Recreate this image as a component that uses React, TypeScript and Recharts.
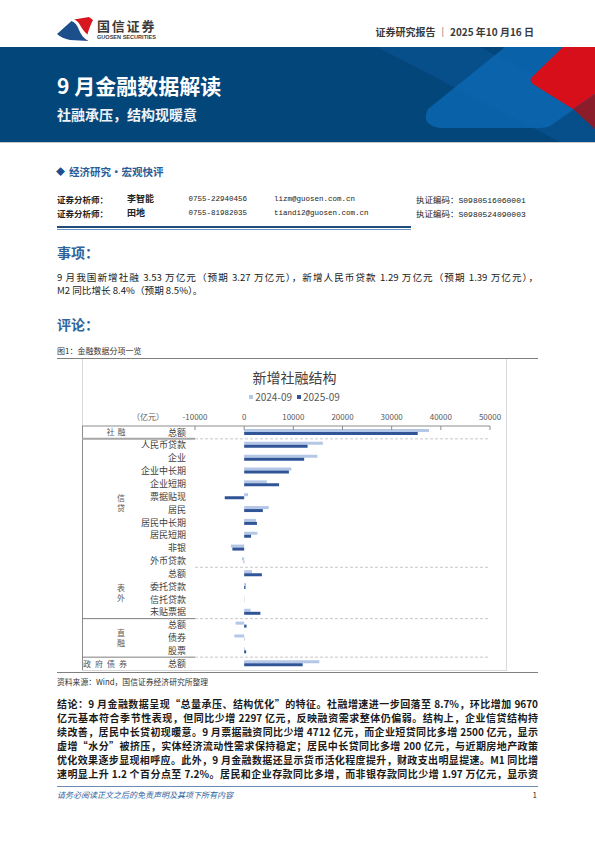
import React from 'react';
import { BarChart, Bar, XAxis, YAxis, ReferenceLine, Legend } from 'recharts';

// ---------- data ----------
const groups = ['社融', '信贷', '信贷', '信贷', '信贷', '信贷', '信贷', '信贷', '信贷', '信贷', '信贷', '表外', '表外', '表外', '表外', '直融', '直融', '直融', '政府债券'];
const items = ['总额', '人民币贷款', '企业', '企业中长期', '企业短期', '票据贴现', '居民', '居民中长期', '居民短期', '非银', '外币贷款', '总额', '委托贷款', '信托贷款', '未贴票据', '总额', '债券', '股票', '总额'];
const values2024 = [37600, 16000, 14900, 9600, 4600, 770, 5000, 2400, 2700, -2700, -450, 1600, 400, 60, 1300, -1750, -2000, 150, 15300];
const values2025 = [35300, 12900, 12200, 9100, 7100, -3950, 3800, 2600, 1400, -2400, -80, 3600, 270, 30, 3300, 480, 50, 400, 11900];
const seriesNames = ['2024-09', '2025-09'];
const xTicks = [-10000, 0, 10000, 20000, 30000, 40000, 50000];
const unitLabel = '（亿元）';
const chartTitle = '新增社融结构';

const data = items.map((item, i) => ({
  key: `${groups[i]}-${i}`,
  group: groups[i],
  item,
  v2024: values2024[i],
  v2025: values2025[i],
}));

// ---------- layout / style ----------
const CJK = '"Noto Sans CJK SC", "Noto Sans", sans-serif';
const MONO = '"Liberation Mono", "DejaVu Sans Mono", monospace';
const CHART_W = 425;
const CHART_H = 312;
const MARGIN = { top: 47, right: 17, bottom: 1, left: 0 };
const XAXIS_H = 20;
const YAXIS_W = 113;
const PLOT_H = CHART_H - MARGIN.top - XAXIS_H - MARGIN.bottom;
const BAND = PLOT_H / data.length;
const X_TICK_MARGIN = 6;
const COLOR_2024 = '#b4c7e7';
const COLOR_2025 = '#2f5597';
const AXIS_COLOR = '#8c8c8c';
const solidSeparators: Record<string, { stroke: string; width: number }> = {
  信贷: { stroke: '#a6a6a6', width: 2 },
  直融: { stroke: '#7f7f7f', width: 1 },
  政府债券: { stroke: '#7f7f7f', width: 1 },
};
const horizontalGroupLabels: Record<string, { cx: number; step: number }> = {
  社融: { cx: 34, step: 11 },
  政府债券: { cx: 23, step: 12 },
};

const groupStart = (i: number) => i === 0 || groups[i - 1] !== groups[i];
const groupSize = (g: string) => groups.filter((x) => x === g).length;

const XTick = (props: any) => {
  const { x, y, payload } = props;
  const axisY = y + X_TICK_MARGIN;
  return (
    <g>
      <line x1={x} x2={x} y1={axisY} y2={axisY + 4} stroke={AXIS_COLOR} strokeWidth={1} />
      <text x={x} y={y - 0.5} textAnchor="middle" fontSize={8} fill="#595959" fontFamily={CJK}>
        {payload.value}
      </text>
    </g>
  );
};

const YTick = (props: any) => {
  const { x, y, payload } = props;
  const i = data.findIndex((d) => d.key === payload.value);
  if (i < 0) return null;
  const row = data[i];
  const els: any[] = [];
  els.push(
    <text key="t" x={x} y={y + 3.2} textAnchor="end" fontSize={9} fill="#404040" fontFamily={CJK}>
      {row.item}
    </text>
  );
  if (i === 0) {
    const top = y - BAND / 2;
    els.push(<line key="ax" x1={0} x2={YAXIS_W} y1={top} y2={top} stroke={AXIS_COLOR} strokeWidth={1} />);
    els.push(<line key="lv" x1={0.5} x2={0.5} y1={top} y2={top + BAND * data.length} stroke="#8c8c8c" strokeWidth={1} />);
  }
  if (groupStart(i)) {
    const size = groupSize(row.group);
    const cy = y + ((size - 1) / 2) * BAND;
    const chars = Array.from(row.group);
    const h = horizontalGroupLabels[row.group];
    if (h) {
      els.push(
        <text key="g" y={cy + 3} textAnchor="middle" fontSize={8} fill="#595959" fontFamily={CJK}>
          {chars.map((c, k) => (
            <tspan key={k} x={h.cx + (k - (chars.length - 1) / 2) * h.step}>{c}</tspan>
          ))}
        </text>
      );
    } else {
      els.push(
        <text key="g" textAnchor="middle" fontSize={8} fill="#595959" fontFamily={CJK}>
          {chars.map((c, k) => (
            <tspan key={k} x={39} y={cy + 3 + (k - (chars.length - 1) / 2) * 9.5}>{c}</tspan>
          ))}
        </text>
      );
    }
    const sep = solidSeparators[row.group];
    if (sep) {
      const sy = y - BAND / 2;
      els.push(<line key="sep" x1={0} x2={YAXIS_W} y1={sy} y2={sy} stroke={sep.stroke} strokeWidth={sep.width} />);
    }
  }
  return <g>{els}</g>;
};

const LegendContent = (props: any) => {
  const payload = (props.payload || []) as any[];
  const ordered = seriesNames.map((n) => payload.find((p) => p.value === n)).filter(Boolean);
  return (
    <div style={{ display: 'flex', justifyContent: 'center', alignItems: 'center', fontFamily: CJK, fontSize: 10, color: '#595959', lineHeight: '12px' }}>
      {ordered.map((p: any, k: number) => (
        <div key={k} style={{ display: 'flex', alignItems: 'center', marginRight: k === 0 ? 5 : 0 }}>
          <span style={{ display: 'inline-block', width: 4, height: 4, background: p.color, marginRight: 2 }} />
          <span>{p.value}</span>
        </div>
      ))}
    </div>
  );
};

// ---------- page helpers ----------
const Txt = (p: { x: number; cy: number; size: number; children: any; bold?: boolean; color?: string; family?: string; style?: any; anchor?: 'left' | 'right' | 'center'; w?: number }) => {
  const lh = Math.round(p.size * 1.5);
  const style: any = {
    position: 'absolute',
    top: p.cy - lh / 2,
    lineHeight: `${lh}px`,
    fontSize: p.size,
    fontWeight: p.bold ? 700 : 400,
    color: p.color || '#222',
    fontFamily: p.family || CJK,
    whiteSpace: 'nowrap',
    ...p.style,
  };
  if (p.anchor === 'right') {
    style.right = 595 - p.x;
  } else if (p.anchor === 'center') {
    style.left = p.x - (p.w || 200) / 2;
    style.width = p.w || 200;
    style.textAlign = 'center';
  } else {
    style.left = p.x;
  }
  return <div style={style}>{p.children}</div>;
};

const JLine = (p: { cy: number; size: number; text: string; bold?: boolean; justify?: boolean; color?: string }) => {
  const lh = Math.round(p.size * 1.4);
  return (
    <div
      style={{
        position: 'absolute',
        left: 57,
        width: 481,
        top: p.cy - lh / 2,
        lineHeight: `${lh}px`,
        height: lh,
        fontSize: p.size,
        fontWeight: p.bold ? 700 : 400,
        color: p.color || '#1a1a1a',
        fontFamily: CJK,
        textAlign: p.justify ? 'justify' : 'left',
        textAlignLast: p.justify ? 'justify' : 'auto',
        overflow: 'visible',
      } as any}
    >
      {p.text}
    </div>
  );
};

const eventLines = [
  '9 月我国新增社融 3.53 万亿元（预期 3.27 万亿元），新增人民币贷款 1.29 万亿元（预期 1.39 万亿元），',
  'M2 同比增长 8.4%（预期 8.5%）。',
];
const conclusionLines = [
  '结论：9 月金融数据呈现“总量承压、结构优化”的特征。社融增速进一步回落至 8.7%，环比增加 9670',
  '亿元基本符合季节性表现，但同比少增 2297 亿元，反映融资需求整体仍偏弱。结构上，企业信贷结构持',
  '续改善，居民中长贷初现暖意。9 月票据融资同比少增 4712 亿元，而企业短贷同比多增 2500 亿元，显示',
  '虚增“水分”被挤压，实体经济流动性需求保持稳定；居民中长贷同比多增 200 亿元，与近期房地产政策',
  '优化效果逐步显现相呼应。此外，9 月金融数据还显示货币活化程度提升，财政支出明显提速。M1 同比增',
  '速明显上升 1.2 个百分点至 7.2%。居民和企业存款同比多增，而非银存款同比少增 1.97 万亿元，显示资',
];

export default function App() {
  const sepStarts = data.map((d, i) => (i > 0 && groupStart(i) ? d.key : null)).filter(Boolean) as string[];
  return (
    <div style={{ position: 'absolute', left: 0, top: 0, width: 595, height: 842, background: '#fff', overflow: 'hidden', fontFamily: CJK }}>
      {/* logo */}
      <svg width={595} height={47} style={{ position: 'absolute', left: 0, top: 0 }}>
        <path d="M57,34 L71.5,21 C75.5,22.5 77.5,26 79,30 C81,35 84,38.5 88.5,41 L70,40 C65,39 60,37 57,34 Z" fill="#1d4f8c" />
        <path d="M74,19.5 L89,17 L93,20 C90.5,25 88.5,30 87.5,34.5 C84,31.5 81.5,28 80,25 C78.5,22 76.5,20.5 74,19.5 Z" fill="#d7161f" />
        <text x={97} y={30.5} fontSize={13} fontWeight={700} fill="#3a3a3a" fontFamily={CJK} letterSpacing={1.8}>国信证券</text>
        <text x={97} y={38.8} fontSize={4.7} fontWeight={700} fill="#3a3a3a" fontFamily='"Liberation Sans", Arial, sans-serif' textLength={59} lengthAdjust="spacingAndGlyphs">GUOSEN SECURITIES</text>
      </svg>
      <Txt x={534} cy={31} size={10} bold anchor="right" color="#3a3a3a">证券研究报告 ｜ 2025 年10 月16 日</Txt>

      {/* banner */}
      <svg width={595} height={95} style={{ position: 'absolute', left: 0, top: 47 }}>
        <rect x={0} y={0} width={595} height={95} fill="#03467a" />
        <polygon points="377,0 480,0 595,60 595,95 560,95" fill="#0a5391" opacity={0.75} />
        <path d="M428,62 L505,0 L595,0 L595,48 L550,79 Q546,81 540,81 L440,81 Q420,78 428,62 Z" fill="#0b66b0" opacity={0.85} />
        <path d="M533,29 L563,0 L595,0 L595,47 L573,62 L536,39 Q527,34 533,29 Z" fill="#d60f1a" />
        <polygon points="573,62 595,47 595,82" fill="#8b1d2b" />
      </svg>
      <div style={{ position: 'absolute', left: 0, top: 142, width: 595, height: 1, background: '#c9c9c9' }} />
      <Txt x={57} cy={85} size={21} bold color="#ffffff">9 月金融数据解读</Txt>
      <Txt x={57} cy={114} size={14} bold color="#eef3f8">社融承压，结构现暖意</Txt>

      {/* section header */}
      <Txt x={56} cy={171.5} size={9} color="#1f4e8c">◆</Txt>
      <Txt x={69} cy={171.5} size={10.5} bold color="#2a5d97">经济研究·宏观快评</Txt>

      {/* analysts */}
      <Txt x={57} cy={199} size={8.5} bold>证券分析师：</Txt>
      <Txt x={127} cy={199} size={9} bold>李智能</Txt>
      <Txt x={188.5} cy={199} size={7.5} family={MONO}>0755-22940456</Txt>
      <Txt x={274} cy={199} size={7.5} family={MONO}>lizm@guosen.com.cn</Txt>
      <Txt x={416} cy={199} size={8.5}>执证编码：<span style={{ fontFamily: MONO, fontSize: 8 }}>S0980516060001</span></Txt>
      <Txt x={57} cy={213} size={8.5} bold>证券分析师：</Txt>
      <Txt x={127} cy={213} size={9} bold>田地</Txt>
      <Txt x={188.5} cy={213} size={7.5} family={MONO}>0755-81982035</Txt>
      <Txt x={274} cy={213} size={7.5} family={MONO}>tiandi2@guosen.com.cn</Txt>
      <Txt x={416} cy={213} size={8.5}>执证编码：<span style={{ fontFamily: MONO, fontSize: 8 }}>S0980524090003</span></Txt>
      <div style={{ position: 'absolute', left: 57, top: 226, width: 354, height: 2, background: '#1f4e79' }} />
      <div style={{ position: 'absolute', left: 57, top: 228.5, width: 354, height: 1, background: '#6b93c4' }} />

      {/* 事项 */}
      <Txt x={57} cy={252} size={14} bold color="#2f649c">事项：</Txt>
      <JLine cy={277} size={9.6} text={eventLines[0]} justify />
      <JLine cy={290.5} size={9.6} text={eventLines[1]} />

      {/* 评论 */}
      <Txt x={57} cy={324} size={14} bold color="#2f649c">评论：</Txt>
      <Txt x={57} cy={351} size={8} color="#333">图1：金融数据分项一览</Txt>

      {/* figure frame */}
      <div style={{ position: 'absolute', left: 82, top: 358, width: 425, height: 313, border: '1px solid #d9d9d9', boxSizing: 'border-box' }} />
      <div style={{ position: 'absolute', left: 57, top: 357.5, width: 481, height: 1.2, background: '#808080' }} />
      <div style={{ position: 'absolute', left: 57, top: 672, width: 481, height: 1.2, background: '#808080' }} />

      {/* chart */}
      <div style={{ position: 'absolute', left: 82, top: 359, width: CHART_W, height: CHART_H }}>
        <div style={{ position: 'absolute', left: 0, top: 8, width: CHART_W, textAlign: 'center', fontSize: 14, lineHeight: '20px', color: '#404040', fontFamily: CJK }}>{chartTitle}</div>
        <div style={{ position: 'absolute', left: 48, top: 52, width: 36, textAlign: 'center', fontSize: 8, lineHeight: '12px', color: '#595959', fontFamily: CJK }}>{unitLabel}</div>
        <BarChart width={CHART_W} height={CHART_H} data={data} layout="vertical" margin={MARGIN} barGap={0}>
          <XAxis
            type="number"
            orientation="top"
            domain={[xTicks[0], xTicks[xTicks.length - 1]]}
            ticks={xTicks}
            height={XAXIS_H}
            axisLine={{ stroke: AXIS_COLOR }}
            tickLine={false}
            tickSize={0}
            tickMargin={X_TICK_MARGIN}
            tick={<XTick />}
            interval={0}
          />
          <YAxis
            type="category"
            dataKey="key"
            width={YAXIS_W}
            axisLine={false}
            tickLine={false}
            tickSize={0}
            tickMargin={9}
            interval={0}
            tick={<YTick />}
          />
          <Legend
            verticalAlign="middle"
            align="center"
            layout="horizontal"
            wrapperStyle={{ position: 'absolute', top: 32, left: 0, width: CHART_W, height: 12 }}
            content={<LegendContent />}
          />
          {sepStarts.map((k) => (
            <ReferenceLine key={k} y={k} position="start" stroke="#c8c8c8" strokeDasharray="3 2" strokeWidth={1} />
          ))}
          <Bar dataKey="v2024" name={seriesNames[0]} fill={COLOR_2024} barSize={3} isAnimationActive={false} />
          <Bar dataKey="v2025" name={seriesNames[1]} fill={COLOR_2025} barSize={3} isAnimationActive={false} />
        </BarChart>
      </div>

      {/* source & conclusion */}
      <Txt x={57} cy={682} size={7.8} color="#333">资料来源：Wind，国信证券经济研究所整理</Txt>
      {conclusionLines.map((t, k) => (
        <JLine key={k} cy={704 + k * 14} size={10} text={t} bold justify color="#1a1a1a" />
      ))}

      {/* footer */}
      <div style={{ position: 'absolute', left: 57, top: 786, width: 481, height: 1.3, background: '#6d8cb3' }} />
      <Txt x={57} cy={795} size={8} color="#2f5f9e" style={{ fontStyle: 'italic' }}>请务必阅读正文之后的免责声明及其项下所有内容</Txt>
      <Txt x={537} cy={795} size={8} anchor="right" color="#333">1</Txt>
    </div>
  );
}
